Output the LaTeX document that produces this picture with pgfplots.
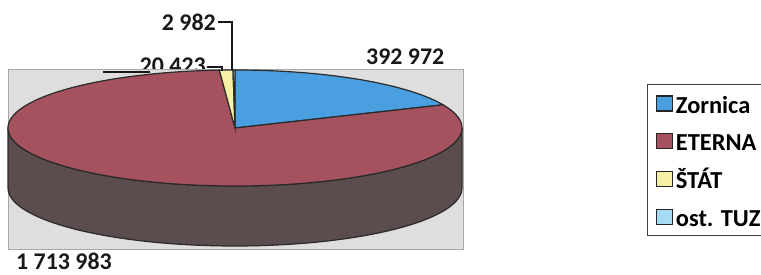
\documentclass[border=0pt]{standalone}
\usepackage{fontspec}
\setmainfont{Carlito}
\usepackage{pgfplots}
\pgfplotsset{compat=1.18}
\definecolor{cZor}{HTML}{4A9FE0}
\definecolor{cEte}{HTML}{A5515E}
\definecolor{cSide}{HTML}{5B4C4E}
\definecolor{cSta}{HTML}{F6F1A6}
\definecolor{cOst}{HTML}{A6DCF3}
\definecolor{cBg}{HTML}{DEDEDE}
\definecolor{cBd}{HTML}{A8A8A8}
\definecolor{cLine}{HTML}{2A2A2A}
% data
\def\vZ{392972}\def\vE{1713983}\def\vS{20423}\def\vO{2982}
\edef\vT{\fpeval{\vZ+\vE+\vS+\vO}}
\edef\aA{90}
\edef\aB{\fpeval{round(90-360*\vZ/\vT,4)}}
\edef\aC{\fpeval{round(\aB-360*\vE/\vT,4)}}
\edef\aD{\fpeval{round(\aC-360*\vS/\vT,4)}}
\edef\aE{\fpeval{round(\aD-360*\vO/\vT,4)}}
\def\cx{235}\def\cy{147}\def\rx{227}\def\ry{58}\def\dep{60}
\begin{document}
\begin{tikzpicture}
\begin{axis}[
  scale only axis, width=761bp, height=275bp,
  xmin=0, xmax=761, ymin=0, ymax=275,
  hide axis, clip=false,
  legend style={at={(axis cs:647,191)}, anchor=north west,
    draw=black!75, line width=1.2bp, fill=white,
    inner xsep=8bp, inner ysep=3bp, row sep=5.7bp, column sep=3bp,
    font=\bfseries\fontsize{24.5}{27}\selectfont,
    nodes={inner sep=0bp, text height=25.7bp, text depth=6.3bp}},
  legend cell align=left,
  legend image code/.code={\draw[#1, draw=black!85, line width=1.3bp] (0bp,-7.5bp) rectangle (16bp,7.5bp);},
]
% label partly hidden by plot area
\node[anchor=east, inner sep=0pt, font=\bfseries\fontsize{24}{26}\selectfont, text=black!90] at (axis cs:206,209) {20 423};
% plot area
\fill[cBg, draw=cBd, line width=1bp] (axis cs:8,25) rectangle (axis cs:463,205);
% side wall
\fill[cSide, draw=cLine, line width=1.2bp] (axis cs:\cx-\rx,\cy) -- (axis cs:\cx-\rx,\cy-\dep)
  arc[start angle=180, end angle=360, x radius=\rx bp, y radius=\ry bp]
  -- (axis cs:\cx+\rx,\cy) arc[start angle=0, end angle=-180, x radius=\rx bp, y radius=\ry bp] -- cycle;
% top wedges
\addplot[fill=cZor, draw=cLine, line width=1.2bp, domain=\aB:\aA, samples=60, variable=\t]
  ({\cx+\rx*cos(\t)}, {\cy+\ry*sin(\t)}) -- (axis cs:\cx,\cy) -- cycle;
\addlegendentry{\makebox[90bp][l]{Zornica}}
\addplot[fill=cEte, draw=cLine, line width=1.2bp, domain=\aC:\aB, samples=200, variable=\t]
  ({\cx+\rx*cos(\t)}, {\cy+\ry*sin(\t)}) -- (axis cs:\cx,\cy) -- cycle;
\addlegendentry{ETERNA}
\addplot[fill=cSta, draw=cLine, line width=1.2bp, domain=\aD:\aC, samples=5, variable=\t]
  ({\cx+\rx*cos(\t)}, {\cy+\ry*sin(\t)}) -- (axis cs:\cx,\cy) -- cycle;
\addlegendentry{ŠTÁT}
\addplot[fill=cOst, draw=cLine, line width=1.2bp, domain=\aE:\aD, samples=2, variable=\t]
  ({\cx+\rx*cos(\t)}, {\cy+\ry*sin(\t)}) -- (axis cs:\cx,\cy) -- cycle;
\addlegendentry{ost. TUZ}
% leader lines
\draw[black!90, line width=1.5bp] (axis cs:103,203) -- (axis cs:150,203);
\draw[black!90, line width=1.5bp] (axis cs:207,208) -- (axis cs:222,208) -- (axis cs:222,204);
\draw[black!90, line width=1.5bp] (axis cs:218,253) -- (axis cs:232,253) -- (axis cs:232,205);
% labels
\begin{scope}[every node/.style={inner sep=0pt, font=\bfseries\fontsize{24}{26}\selectfont, text=black!90}]
\node[anchor=east] at (axis cs:216,253) {2 982};
\node[anchor=west] at (axis cs:366,218) {392 972};
\node[anchor=west] at (axis cs:16,14) {1 713 983};
\end{scope}
\end{axis}
\pgfresetboundingbox
\path[use as bounding box] (current axis.south west) rectangle (current axis.north east);
\end{tikzpicture}
\end{document}
